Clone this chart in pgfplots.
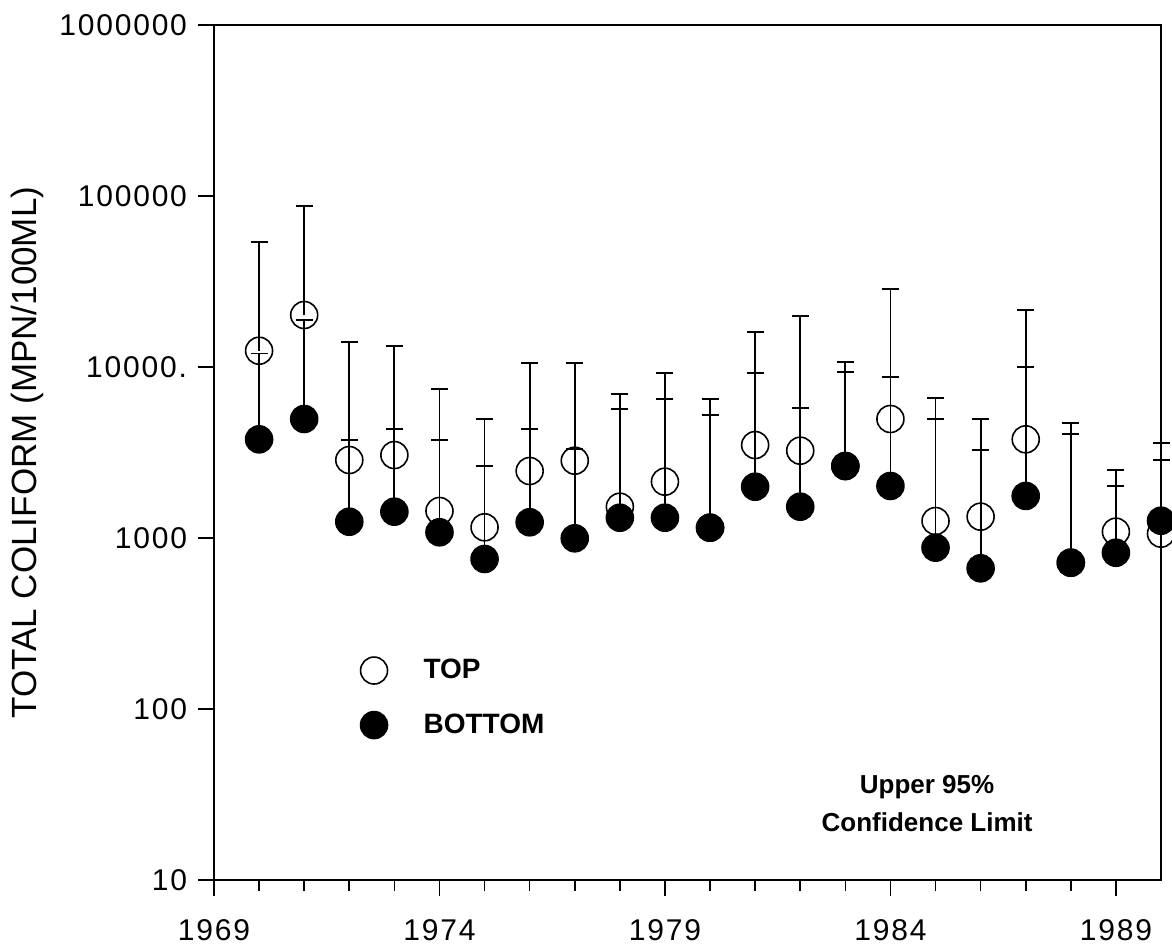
\documentclass[border=0pt]{standalone}
\usepackage{fontspec}
\setmainfont{Liberation Sans}
\usepackage{pgfplots}
\pgfplotsset{compat=1.18}
\usepackage{pgfplotstable}

\pgfplotstableread{
year top topcl
1970 12450 53800
1971 20140 87400
1972 2858 14060
1973 3056 13270
1974 1439 7435
1975 1155 4945
1976 2465 10590
1977 2832 10510
1978 1524 6950
1979 2135 9190
1980 1149 6500
1981 3497 16080
1982 3241 19950
1983 2636 10650
1984 4966 28470
1985 1257 6610
1986 1333 4966
1987 3776 21460
1988 717 4687
1989 1089 2500
1990 1060 3580
}\toptable

\pgfplotstableread{
year bot botcl
1970 3776 12000
1971 4966 18830
1972 1245 3742
1973 1425 4322
1974 1080 3742
1975 754 2636
1976 1236 4322
1977 996 3315
1978 1314 5680
1979 1314 6530
1980 1149 5260
1981 1995 9260
1982 1524 5730
1983 2636 9310
1984 2015 8740
1985 878 4966
1986 665 3273
1987 1762 10040
1988 717 4040
1989 820 2015
1990 1262 2858
}\bottable

\begin{document}
\begin{tikzpicture}
\useasboundingbox (-107pt,-35pt) rectangle (479pt,440pt);
\begin{axis}[
  scale only axis,
  width=473.5pt, height=427.5pt,
  ymode=log, ymin=10, ymax=1000000,
  xmin=1969, xmax=1990,
  xtick={1969,1974,1979,1984,1989},
  xticklabels={1969,1974,1979,1984,1989},
  minor xtick={1970,1971,1972,1973,1975,1976,1977,1978,1980,1981,1982,1983,1985,1986,1987,1988},
  ytick={10,100,1000,10000,100000,1000000},
  yticklabels={10,100,1000,10000.,100000,1000000},
  yminorticks=false,
  tick align=outside,
  xtick pos=bottom, ytick pos=left,
  major tick length=8pt, minor tick length=5.5pt,
  axis line style={line width=0.8pt},
  every tick/.style={black, line width=0.8pt},
  tick label style={font=\fontsize{15}{18}\selectfont\addfontfeature{LetterSpace=6}},
  yticklabel style={xshift=-2pt},
  xticklabel style={yshift=-8pt},
  ylabel={TOTAL COLIFORM (MPN/100ML)},
  every axis y label/.style={at={(axis description cs:-0.1975,0.5)}, rotate=90, anchor=center,
    font=\fontsize{17.5}{20}\selectfont},
  clip=false,
  legend style={draw=none, fill=none, at={(axis description cs:0.148,0.268)}, anchor=north west,
    font=\fontsize{14}{16}\selectfont\bfseries, row sep=12pt,
    /tikz/every odd column/.append style={column sep=16pt}},
  legend cell align=left,
]
\addplot[black, only marks, mark=o, mark size=6.75pt, line width=0.8pt,
  error bars/.cd, y dir=plus, y explicit, error mark=-,
  error mark options={rotate=90, mark size=4.25pt, line width=0.9pt},
  error bar style={line width=0.9pt}]
  table[x=year, y=top, y error plus expr=\thisrow{topcl}-\thisrow{top}] {\toptable};
\addlegendentry{TOP}
\addplot[black, only marks, mark=*, mark size=6.75pt, line width=0.8pt,
  error bars/.cd, y dir=plus, y explicit, error mark=-,
  error mark options={rotate=90, mark size=4.25pt, line width=0.9pt},
  error bar style={line width=0.9pt}]
  table[x=year, y=bot, y error plus expr=\thisrow{botcl}-\thisrow{bot}] {\bottable};
\addlegendentry{BOTTOM}
\node[font=\fontsize{13}{19}\selectfont\bfseries, align=center] at (axis description cs:0.753,0.0889) {Upper 95\%\\Confidence Limit};
\end{axis}
\end{tikzpicture}
\end{document}
